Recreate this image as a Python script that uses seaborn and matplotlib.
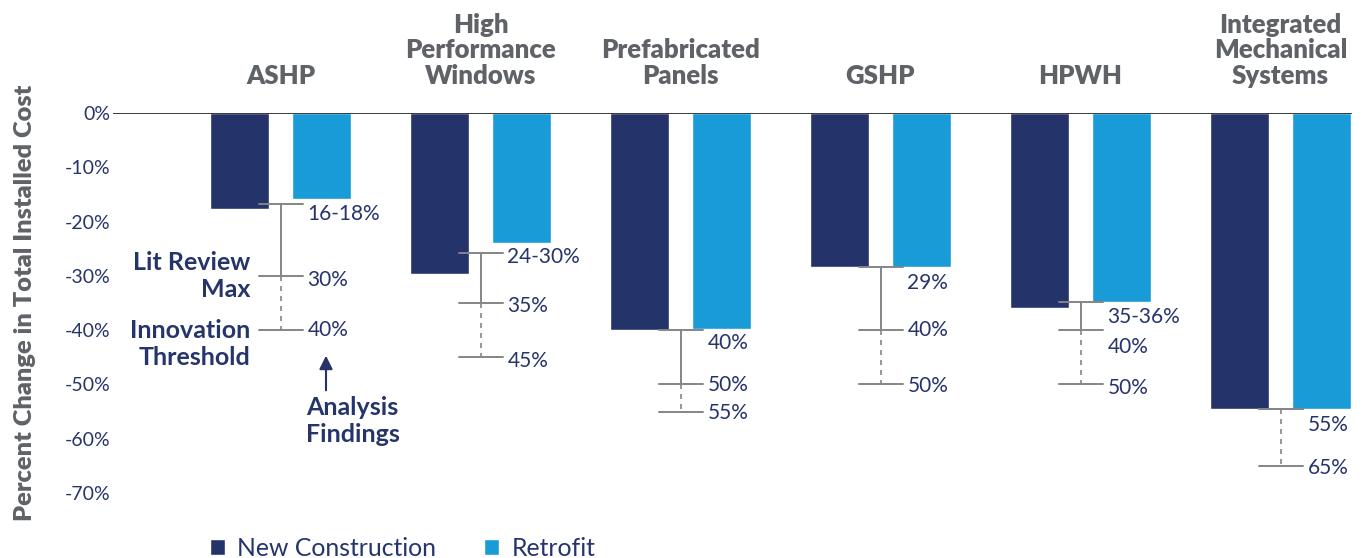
import matplotlib
matplotlib.use('Agg')
import pandas as pd
import matplotlib.pyplot as plt
import seaborn as sns

# Dados
categorias = ['ASHP', 'High\nPerformance\nWindows', 'Prefabricated\nPanels', 'GSHP', 'HPWH',
              'Integrated\nMechanical\nSystems']
new_construction = [-17.6, -29.6, -40.0, -28.3, -36.0, -54.6]
retrofit = [-15.8, -23.9, -39.8, -28.3, -34.9, -54.6]
analysis_findings = [-16.7, -25.7, -40.0, -28.3, -34.9, -54.6]
lit_review_max = [-30, -35, -50, -40, -40, -54.6]
innovation_threshold = [-40, -45, -55, -50, -50, -65]
findings_labels = ['16-18%', '24-30%', '40%', '29%', '35-36%', '55%']
lit_labels = ['30%', '35%', '50%', '40%', '40%', '']
threshold_labels = ['40%', '45%', '55%', '50%', '50%', '65%']
y_ticks = [0, -10, -20, -30, -40, -50, -60, -70]

# deslocamento dos rotulos (px para baixo)
nudge_findings = [10, 4, 13, 16, 15, 16]
nudge_lit = [4, 3, 1, 0, 17, 0]
nudge_threshold = [0, 4, 1, 2, 4, 2]

navy = '#24346a'
blue = '#189bd7'
cinza_txt = '#5f6266'
txt_navy = '#26346c'
cinza_lin = '#858585'

sns.set_style('white')
plt.rcParams['font.family'] = ['Lato', 'DejaVu Sans']

df = pd.DataFrame({
    'Categoria': categorias * 2,
    'Tipo': ['New Construction'] * len(categorias) + ['Retrofit'] * len(categorias),
    'Valor': new_construction + retrofit,
})

fig = plt.figure(figsize=(13.72, 5.58), dpi=100)
ax = fig.add_axes([113 / 1372, 1 - 493 / 558, 1239 / 1372, 380 / 558])

sns.barplot(data=df, x='Categoria', y='Valor', hue='Tipo', palette=[navy, blue],
            width=0.82, gap=0.28, saturation=1, ax=ax, zorder=2)

ax.set_xlim(-0.8375, 5.3575)
ax.set_ylim(-70, 0)
ax.axhline(0, color='#1a1a1a', lw=1.2, zorder=4)
for s in ax.spines.values():
    s.set_visible(False)

# eixo x em cima
ax.xaxis.set_ticks_position('top')
ax.tick_params(axis='x', length=0, pad=18)
ax.set_xticks(range(len(categorias)))
ax.set_xticklabels(categorias, fontsize=18.5, fontweight='heavy', color=cinza_txt, linespacing=1.08)
ax.set_xlabel('')

ax.set_yticks(y_ticks)
ax.set_yticklabels([f'{v}%' for v in y_ticks], fontsize=14, color=txt_navy)
ax.tick_params(axis='y', length=0, pad=2)
ax.set_ylabel('Percent Change in Total Installed Cost', fontsize=18.3, fontweight='heavy', color=cinza_txt)
ax.yaxis.set_label_coords(-0.062, 0.5)

# faixas (findings -> lit review -> threshold)
meia = 0.11
for i in range(len(categorias)):
    ax.plot([i, i], [analysis_findings[i], lit_review_max[i]], color=cinza_lin, lw=1.4, zorder=3)
    ax.plot([i, i], [lit_review_max[i], innovation_threshold[i]], color=cinza_lin, lw=1.2,
            ls=(0, (3, 3)), zorder=3)
    for val, lab, nd in [(analysis_findings[i], findings_labels[i], nudge_findings[i]),
                         (lit_review_max[i], lit_labels[i], nudge_lit[i]),
                         (innovation_threshold[i], threshold_labels[i], nudge_threshold[i])]:
        ax.plot([i - meia, i + meia], [val, val], color=cinza_lin, lw=1.4, zorder=3)
        if lab:
            ax.annotate(lab, xy=(i + 0.135, val), xytext=(0, -nd * 0.72), textcoords='offset points',
                        ha='left', va='center', fontsize=15, color=txt_navy)

# anotacoes explicativas
ax.annotate('Lit Review\nMax', xy=(-0.1525, lit_review_max[0]), xytext=(0, 0),
            textcoords='offset points', ha='right', va='center', fontsize=18,
            fontweight='bold', color=txt_navy, linespacing=1.2)
ax.annotate('Innovation\nThreshold', xy=(-0.1525, innovation_threshold[0]), xytext=(0, -9.7),
            textcoords='offset points', ha='right', va='center', fontsize=18,
            fontweight='bold', color=txt_navy, linespacing=1.2)
ax.annotate('', xy=(0.2275, innovation_threshold[0] - 4.2), xytext=(0.2275, innovation_threshold[0] - 11.6),
            arrowprops=dict(arrowstyle='-|>', color=navy, lw=1.5, mutation_scale=20))
ax.text(0.13, innovation_threshold[0] - 16.8, 'Analysis\nFindings', ha='left', va='center',
        fontsize=18, fontweight='bold', color=txt_navy, linespacing=1.2)

# legenda
handles, labels = ax.get_legend_handles_labels()
ax.legend_.remove()
fig.legend(handles, labels, loc='center left', bbox_to_anchor=(210 / 1372, 1 - 548 / 558), ncol=2,
           frameon=False, borderpad=0, borderaxespad=0, handlelength=0.6, handleheight=0.6,
           handletextpad=0.5, columnspacing=1.95,
           prop={'size': 17.8, 'family': ['Lato', 'DejaVu Sans']},
           labelcolor=txt_navy)

plt.savefig('out.png', dpi=100)
